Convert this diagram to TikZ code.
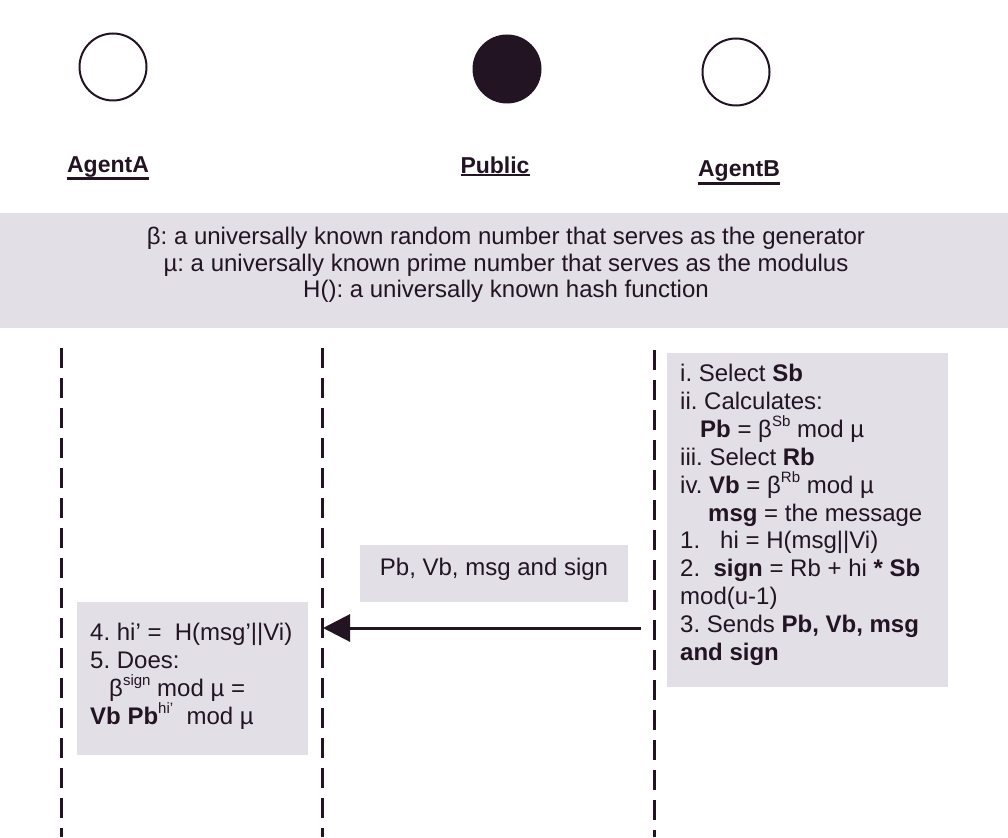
\documentclass[tikz,border=0pt]{standalone}
\usepackage{fontspec}
\setmainfont{Liberation Sans}
\usetikzlibrary{arrows.meta}
\definecolor{ink}{RGB}{35,20,35}
\definecolor{panel}{RGB}{226,223,231}
\frenchspacing
% raised small exponent text
\newcommand{\upx}[1]{\raisebox{10.5pt}{\fontsize{15}{15}\selectfont #1}}
% heading with a heavy rule under its descenders
\newcommand{\ulabel}[1]{\leavevmode\vtop{\hbox{#1}\kern0.5pt\hrule height 2.2pt}}
\begin{document}
\begin{tikzpicture}[x=1pt,y=-1pt,
  every node/.style={text=ink, inner sep=0pt, font=\fontsize{24}{27.9}\selectfont},
  actor/.style={circle, draw=ink, line width=2pt, minimum size=67pt},
  actorlabel/.style={anchor=base, font=\bfseries\fontsize{23}{27}\selectfont},
  panelbox/.style={fill=panel, draw=none, anchor=north west},
  steps/.style={anchor=north west, align=left},
  lifeline/.style={draw=ink, line width=3pt, dash pattern=on 20pt off 10pt},
  message/.style={draw=ink, line width=3pt, -{Triangle[length=27pt,width=27pt]}}]
\useasboundingbox (0,0) rectangle (1008,837);

% participants
\node[actor] (agentA) at (113,67) {};
\node[actor, fill=ink] (public) at (507,69) {};
\node[actor] (agentB) at (736,72) {};
\node[actorlabel] (labelA) at (108,172) {\ulabel{AgentA}};
\node[actorlabel] (labelP) at (495,173) {\ulabel{Public}};
\node[actorlabel] (labelB) at (739,177) {\ulabel{AgentB}};

% shared parameters
\node[panelbox, minimum width=1008pt, minimum height=115pt] (band) at (0,213) {};
\node[align=center, font=\fontsize{24}{26.5}\selectfont] (defs) at (506,265)
  {β: a universally known random number that serves as the generator\\
   µ: a universally known prime number that serves as the modulus\\
   H(): a universally known hash function};

% lifelines
\coordinate (Atop) at (61,348);  \coordinate (Abot) at (61,837);
\coordinate (Ptop) at (322,348); \coordinate (Pbot) at (322,837);
\coordinate (Btop) at (654,350); \coordinate (Bbot) at (654,837);
\draw[lifeline] (Atop) -- (Abot);
\draw[lifeline] (Ptop) -- (Pbot);
\draw[lifeline] (Btop) -- (Bbot);

% AgentB: signing steps
\node[panelbox, minimum width=281pt, minimum height=334pt] (bsteps) at (667,353) {};
\node[steps] (btext) at (680,364)
  {i. Select \textbf{Sb}\\
   ii. Calculates:\\
   \hspace{20pt}\textbf{Pb} = β\upx{Sb} mod µ\\
   iii. Select \textbf{Rb}\\
   iv. \textbf{Vb} = β\upx{Rb} mod µ\\
   \hspace{28pt}\textbf{msg} = the message\\
   1.\ \ \ hi = H(msg||Vi)\\
   2.\ \ \textbf{sign} = Rb + hi \textbf{* Sb}\\
   mod(u-1)\\
   3. Sends \textbf{Pb, Vb, msg}\\
   \textbf{and sign}};

% transmitted values
\node[panelbox, minimum width=268pt, minimum height=57pt] (msgbox) at (360,545) {};
\node[anchor=base] (msglabel) at (494,575) {Pb, Vb, msg and sign};
\coordinate (send) at (641,628);
\coordinate (recv) at (323,628);
\draw[message] (send) -- (recv);

% AgentA: verification steps
\node[panelbox, minimum width=231pt, minimum height=153pt] (asteps) at (77,602) {};
\node[steps] (atext) at (90,623)
  {4. hi’ =\ \ H(msg’||Vi)\\
   5. Does:\\
   \hspace{19pt}β\upx{sign} mod µ =\\
   \textbf{Vb Pb}\upx{hi’}\ \ mod µ};
\end{tikzpicture}
\end{document}
